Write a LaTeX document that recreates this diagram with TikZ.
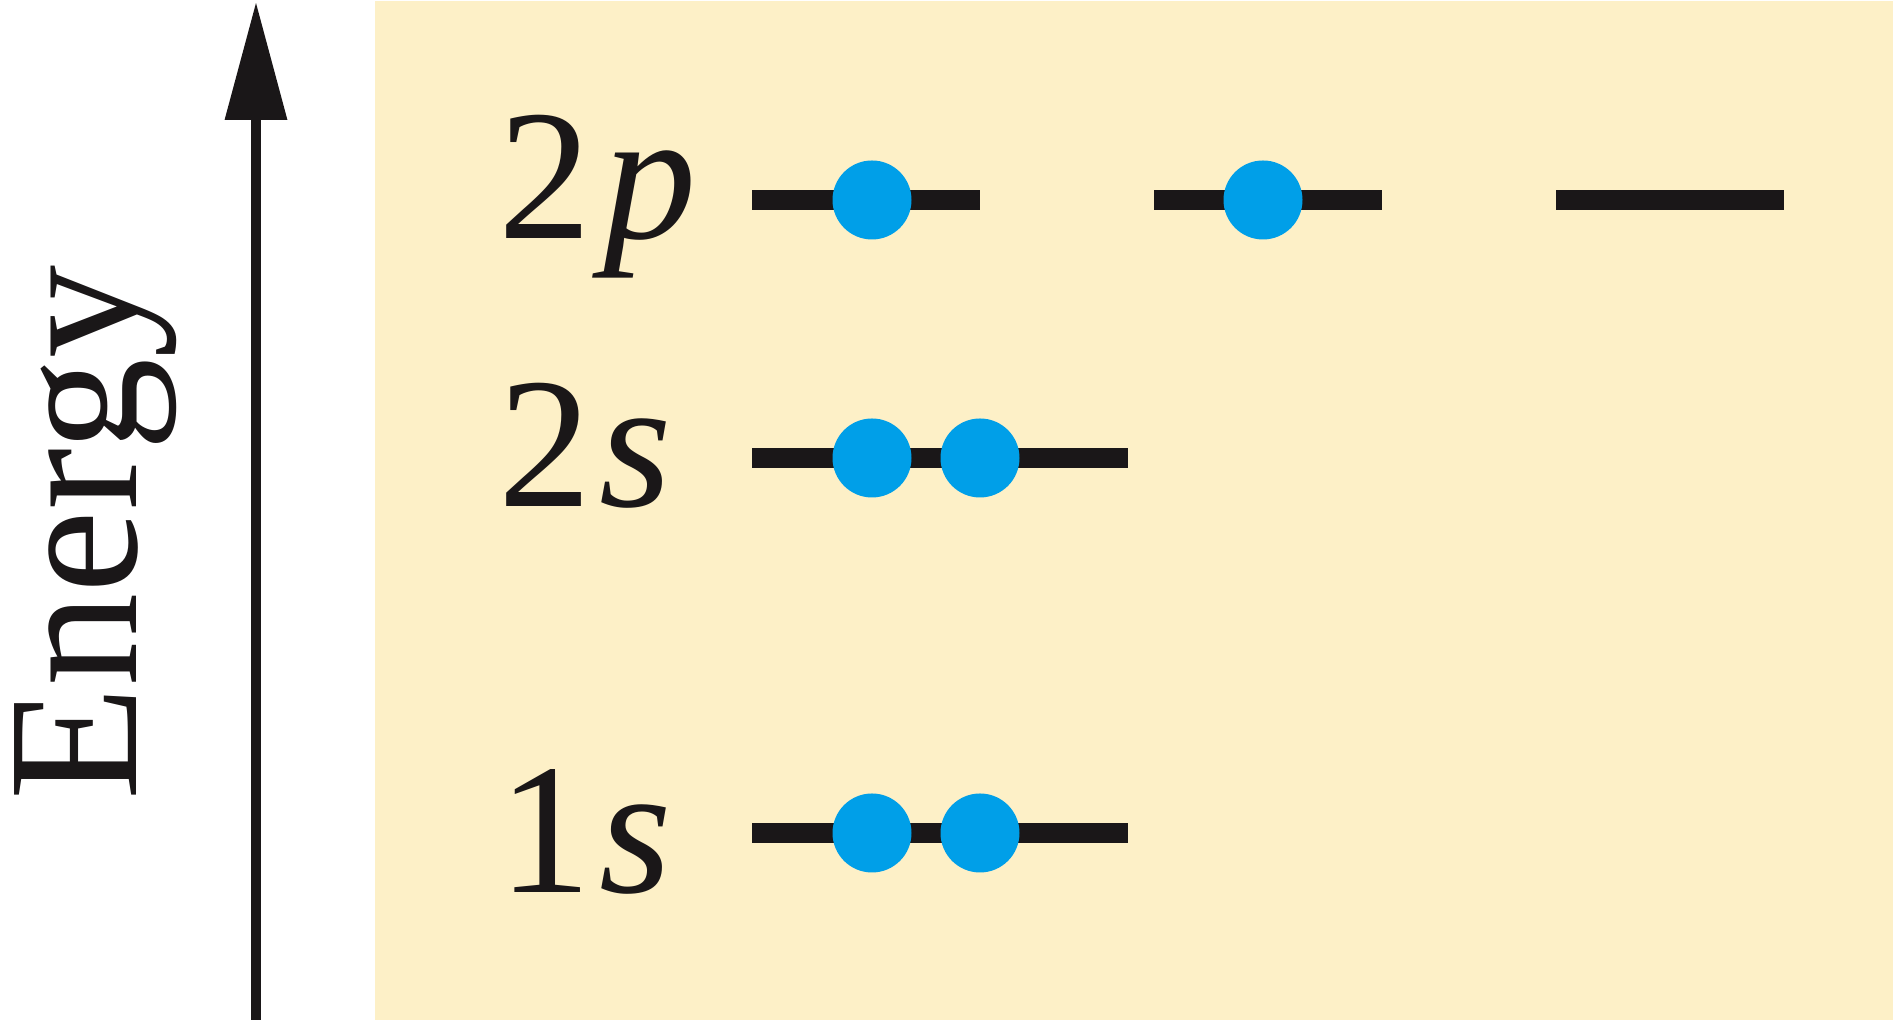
\documentclass[tikz,border=0pt]{standalone}
\usepackage{fontspec}
\setmainfont{Liberation Serif}
\usetikzlibrary{arrows.meta}
\definecolor{paper}{RGB}{253,240,199}
\definecolor{elec}{RGB}{0,159,232}
\definecolor{ink}{RGB}{26,23,24}
\tikzset{
  level/.style={line width=0.2cm, ink},
  electron/.style={circle, fill=elec, inner sep=0pt, minimum size=0.79cm},
  orblabel/.style={anchor=base west, inner sep=0pt, font=\fontsize{53}{64}\selectfont, ink}
}
\begin{document}
\begin{tikzpicture}
        \useasboundingbox (0,0) rectangle (18.93,10.20);
        % --- Nền vàng nhạt ---
        \fill[paper] (3.75,0) rectangle (18.93,10.19);

        % --- Trục năng lượng ---
        \coordinate (AxisBot) at (2.56,0);
        \coordinate (AxisTop) at (2.56,10.18);
        \draw[line width=0.1cm, ink, -{Triangle[width=0.6cm,length=1.18cm]}] (AxisBot) -- (AxisTop);
        \node[rotate=90, anchor=base, inner sep=0pt, font=\fontsize{53}{64}\selectfont, ink]
            (energy) at (1.36,4.87) {Energy};

        % --- Nhãn các phân lớp ---
        \node[orblabel] (lab2p) at (4.98,7.81) {2\kern0.06em\textit{p}};
        \node[orblabel] (lab2s) at (4.98,5.13) {2\kern0.04em\textit{s}};
        \node[orblabel] (lab1s) at (4.98,1.27) {1\kern0.04em\textit{s}};

        % --- Các mức năng lượng ---
        % 2p: ba orbital
        \draw[level] (7.52,8.20) -- (9.80,8.20);
        \draw[level] (11.54,8.20) -- (13.82,8.20);
        \draw[level] (15.56,8.20) -- (17.84,8.20);
        % 2s và 1s
        \draw[level] (7.52,5.62) -- (11.28,5.62);
        \draw[level] (7.52,1.87) -- (11.28,1.87);

        % --- Electron ---
        \node[electron] (e2pa) at (8.72,8.20) {};
        \node[electron] (e2pb) at (12.63,8.20) {};
        \node[electron] (e2sa) at (8.72,5.62) {};
        \node[electron] (e2sb) at (9.80,5.62) {};
        \node[electron] (e1sa) at (8.72,1.87) {};
        \node[electron] (e1sb) at (9.80,1.87) {};
\end{tikzpicture}
\end{document}
